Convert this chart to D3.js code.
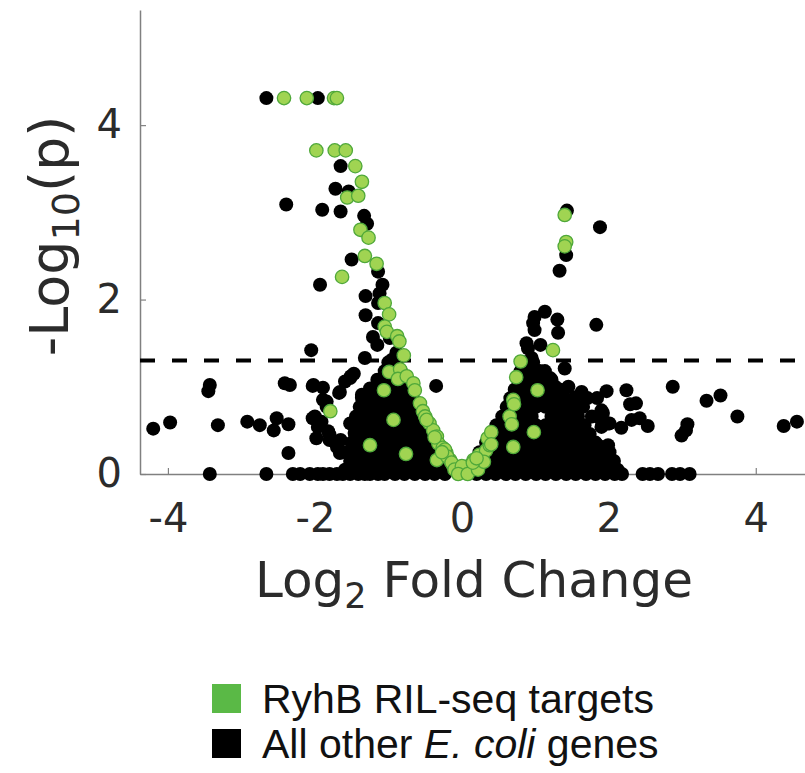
<!DOCTYPE html>
<html>
<head>
<meta charset="utf-8">
<script src="https://cdnjs.cloudflare.com/ajax/libs/d3/7.8.5/d3.min.js"></script>
<style>
  body { margin: 0; background: #ffffff; }
</style>
</head>
<body>
<div id="chart"></div>
<script>
// axis ticks
const xTicks = [-4, -2, 0, 2, 4];
const yTicks = [0, 2, 4];
const pThreshold = 1.301; // -log10(0.05)

// scattered "all other genes" points [log2FC, -log10 p]
const blackSparse = [
  [-2.66,4.31],[-1.96,4.31],[-1.65,3.53],[-1.72,3.27],[-1.54,3.24],[-2.39,3.09],[-1.90,3.03],[-1.65,3.01],
  [-1.33,2.96],[-1.29,2.87],[-1.50,2.46],[-1.14,2.32],[-1.93,2.17],[-1.08,2.17],[-1.12,2.07],[-1.31,2.04],
  [-1.14,1.96],[-1.31,1.82],[-1.14,1.73],[-1.21,1.57],[-0.98,1.56],[-1.15,1.48],[-2.05,1.42],[-0.89,1.39],
  [-1.32,1.33],[-0.95,1.31],
  [-3.43,1.02],[-3.45,0.95],[-2.41,1.04],[-2.03,1.01],[-1.89,0.99],[-1.67,0.93],[-1.51,1.12],[-1.47,1.15],
  [-1.52,1.10],[-1.59,1.06],[-1.15,1.08],[-1.25,0.98],[-1.36,0.91],[-1.17,0.92],[-1.66,0.94],[-2.02,1.02],
  [-2.34,1.02],[-0.35,1.01],
  [-4.20,0.52],[-3.97,0.59],[-3.32,0.56],[-2.92,0.60],[-2.75,0.56],[-2.56,0.50],[-2.52,0.64],[-2.36,0.57],
  [-2.03,0.64],[-1.98,0.41],[-2.36,0.24],[-1.80,0.45],[-1.73,0.37],[-1.65,0.39],[-1.84,0.83],[-1.91,0.60],
  [-1.89,0.85],[-1.84,0.77],[-2.00,0.66],[-1.96,0.54],[-1.82,0.49],[-1.80,0.39],[-1.70,0.31],[-1.66,0.24],
  [-1.52,0.58],[-1.46,0.47],[-1.48,0.31],[-1.55,0.24],
  [1.43,3.02],[1.88,2.83],[1.42,2.51],[1.33,2.33],[1.13,1.86],[0.99,1.80],[0.97,1.73],[0.99,1.65],
  [1.30,1.77],[1.31,1.62],[1.83,1.71],[0.88,1.50],[0.90,1.44],[1.07,1.48],[0.95,1.33],[1.40,1.21],
  [1.20,1.10],[1.27,1.00],[1.45,1.00],
  [1.63,0.94],[1.54,0.88],[1.71,0.87],[1.84,0.87],[1.54,0.75],[1.65,0.77],[1.90,0.73],[2.29,0.80],
  [1.77,0.66],[1.90,0.62],[2.01,0.58],[2.17,0.53],[2.31,0.62],[1.72,0.43],[1.70,0.39],[1.85,0.33],
  [1.81,0.20],[1.95,0.28],[1.97,0.95],[2.24,0.96],[2.37,0.81],[2.42,0.64],[2.53,0.55],[1.92,0.70],
  [1.99,0.58],[1.90,0.54],[2.87,1.00],[3.33,0.84],[3.52,0.90],[3.75,0.66],[3.07,0.57],[3.05,0.50],
  [2.99,0.44],[4.38,0.55],[4.56,0.60],[1.99,0.33],[1.90,0.29],[1.88,0.20]
];

// dense body of non-significant genes, read row by row: [-log10 p, [log2FC...]]
const blackDenseRows = [
  [0.05, [-1.59,-1.46,-1.32,-1.18,-1.05,-0.91,-0.78,-0.64,-0.50,-0.37,-0.23,-0.10,
          0.08,0.22,0.35,0.49,0.63,0.76,0.90,1.03,1.17,1.31,1.44,1.58,1.71,1.85,1.99,2.12]],
  [0.15, [-1.52,-1.39,-1.25,-1.12,-0.98,-0.84,-0.71,-0.57,-0.44,-0.30,-0.18,
          0.16,0.30,0.44,0.57,0.71,0.84,0.98,1.12,1.25,1.39,1.52,1.66,1.80,1.93,2.07]],
  [0.25, [-1.58,-1.44,-1.31,-1.17,-1.03,-0.90,-0.76,-0.63,-0.49,-0.35,-0.25,
          0.24,0.38,0.52,0.65,0.79,0.93,1.06,1.20,1.33,1.47,1.61,1.74,1.88,2.01]],
  [0.36, [-1.50,-1.36,-1.22,-1.09,-0.95,-0.82,-0.68,-0.54,-0.41,-0.33,
          0.33,0.46,0.60,0.73,0.87,1.01,1.14,1.28,1.42,1.55,1.69,1.82]],
  [0.46, [-1.44,-1.30,-1.17,-1.03,-0.89,-0.76,-0.62,-0.49,-0.40,
          0.40,0.52,0.65,0.79,0.93,1.06,1.20,1.33,1.47,1.61,1.74]],
  [0.56, [-1.41,-1.28,-1.14,-1.00,-0.87,-0.73,-0.60,-0.47,
          0.47,0.60,0.73,0.87,1.01,1.14,1.28,1.42,1.55,1.67]],
  [0.66, [-1.44,-1.31,-1.17,-1.03,-0.90,-0.76,-0.63,-0.53,
          0.55,0.68,0.82,0.95,1.22,1.36,1.50,1.58]],
  [0.77, [-1.39,-1.25,-1.11,-0.98,-0.84,-0.71,-0.58,
          0.61,0.73,0.87,1.01,1.14,1.28,1.42,1.47]],
  [0.87, [-1.36,-1.22,-1.08,-0.95,-0.81,-0.67,
          0.66,0.79,0.93,1.06,1.20,1.33,1.40]],
  [0.97, [-1.14,-1.02,-0.89,-0.75,-0.69,
          0.72,0.84,0.98,1.12,1.25,1.33]],
  [1.08, [-1.08,-0.95,-0.82,-0.75,
          0.77,0.90,1.03,1.17,1.22]],
  [1.18, [-1.05,-0.93,-0.83,
          0.80,0.93,1.06,1.13]],
  [1.28, [-1.00,-0.89,
          0.84,0.97]]
];

// genes with p = 1 sitting on the x axis
const blackBaseline = [
  -3.43,-2.66,-2.30,-2.20,-2.07,-1.96,-1.89,-1.80,-1.70,-1.62,-1.52,-1.41,-1.32,-1.25,-1.14,
  -1.05,-0.91,-0.78,-0.64,-0.50,-0.37,-0.23,
  0.20,0.33,0.46,0.60,0.73,0.87,1.01,1.14,1.28,1.42,1.55,1.69,1.82,1.95,2.08,2.18,
  2.46,2.56,2.67,2.86,2.97,3.10
];

// RyhB RIL-seq targets [log2FC, -log10 p]
const greenTargets = [
  [-2.42,4.31],[-2.11,4.31],[-1.74,4.31],[-1.70,4.31],[-1.98,3.71],[-1.73,3.71],[-1.58,3.71],[-1.45,3.53],
  [-1.36,3.35],[-1.56,3.17],[-1.41,3.19],[-1.38,2.80],[-1.27,2.71],[-1.32,2.50],[-1.16,2.41],[-1.63,2.26],
  [-1.05,1.96],[-0.99,1.83],[-1.05,1.69],[-1.02,1.63],[-0.88,1.58],[-0.85,1.52],[-0.79,1.36],[-0.99,1.17],
  [-0.84,1.20],[-0.87,1.09],[-0.75,1.12],[-0.66,1.04],[-0.64,0.96],[-1.06,0.96],[-1.79,0.72],[-0.93,0.62],
  [-1.25,0.33],[-0.76,0.23],
  [-0.57,0.81],[-0.53,0.72],[-0.50,0.66],[-0.44,0.58],[-0.39,0.50],[-0.34,0.43],[-0.32,0.35],[-0.26,0.30],
  [-0.21,0.24],[-0.34,0.16],[-0.16,0.16],[-0.12,0.10],[-0.05,0.07],[-0.48,0.62],[-0.37,0.42],[-0.23,0.28],
  [-0.20,0.20],[-0.14,0.13],
  [-0.10,0.05],[0.00,0.02],[0.04,0.05],[0.11,0.10],[0.16,0.16],[0.24,0.22],[0.00,0.09],[-0.27,0.25],
  [0.33,0.27],[0.38,0.33],[-0.05,0.00],[0.08,0.00],[0.22,0.05],[0.30,0.14],[0.15,0.13],[0.20,0.18],
  [0.35,0.41],[0.40,0.48],[0.40,0.34],[0.65,0.66],[0.68,0.57],[0.70,0.85],[0.71,0.80],[0.74,1.11],
  [0.80,1.29],[1.03,0.96],[0.98,0.48],[0.70,0.31],[1.24,1.42],[1.40,2.97],[1.42,2.66],[1.40,2.61]
];

const legendItems = [
  {label: "RyhB RIL-seq targets", color: "#5ab946"},
  {label: "All other ", italic: "E. coli", rest: " genes", color: "#000000"}
];

// Build the svg
const W = 805, H = 773;
const margin = {top: 10, right: 0, bottom: 299, left: 140};

const svg = d3.select("#chart")
  .append("svg")
  .attr("width", W)
  .attr("height", H);

const x = d3.scaleLinear()
  .domain([-4.38, 4.67])
  .range([margin.left, W - margin.right]);

const y = d3.scaleLinear()
  .domain([0, 5.32])
  .range([H - margin.bottom, margin.top]);

// Axes (ticks point inward)
svg.append("g")
  .attr("transform", "translate(0," + y(0) + ")")
  .call(d3.axisBottom(x).tickValues(xTicks).tickSizeInner(-6).tickSizeOuter(0).tickPadding(30)
    .tickFormat(d => d < 0 ? "-" + Math.abs(d) : d));

svg.append("g")
  .attr("transform", "translate(" + x.range()[0] + ",0)")
  .call(d3.axisLeft(y).tickValues(yTicks).tickSizeInner(-6).tickSizeOuter(0).tickPadding(18)
    .tickFormat(d3.format("d")));

svg.selectAll(".domain").attr("stroke", "#808080").attr("stroke-width", 1.5);
svg.selectAll(".tick line").attr("stroke", "#808080").attr("stroke-width", 1.2);
svg.selectAll(".tick text")
  .style("font-family", "'DejaVu Sans', sans-serif")
  .style("font-size", "40px")
  .attr("fill", "#2b2b2b");

// significance threshold
svg.append("line")
  .attr("x1", x.range()[0])
  .attr("x2", x.range()[1])
  .attr("y1", y(pThreshold))
  .attr("y2", y(pThreshold))
  .attr("stroke", "#000")
  .attr("stroke-width", 4)
  .attr("stroke-dasharray", "15,17");

// points
const R = 7;
const blackAll = blackSparse.slice();
blackDenseRows.forEach(([py, xs]) => xs.forEach(px => blackAll.push([px, py])));
blackBaseline.forEach(px => blackAll.push([px, 0]));

svg.append("g")
  .selectAll("circle")
  .data(blackAll)
  .enter()
  .append("circle")
  .attr("cx", d => x(d[0]))
  .attr("cy", d => y(d[1]))
  .attr("r", R)
  .attr("fill", "#000");

svg.append("g")
  .selectAll("circle")
  .data(greenTargets)
  .enter()
  .append("circle")
  .attr("cx", d => x(d[0]))
  .attr("cy", d => y(d[1]))
  .attr("r", R - 0.3)
  .attr("fill", "#a0d452")
  .attr("stroke", "#4fa83a")
  .attr("stroke-width", 1.3);

// axis titles
const yLab = svg.append("text")
  .attr("transform", "translate(68," + 236 + ") rotate(-90)")
  .attr("text-anchor", "middle")
  .style("font-family", "'DejaVu Sans', sans-serif")
  .style("font-size", "54px")
  .attr("fill", "#2b2b2b");
yLab.append("tspan").text("-Log");
yLab.append("tspan").attr("dy", "0.3em").style("font-size", "38px").text("10");
yLab.append("tspan").attr("dy", "-0.21em").text("(p)");

const xLab = svg.append("text")
  .attr("x", 474)
  .attr("y", 597)
  .attr("text-anchor", "middle")
  .style("font-family", "'DejaVu Sans', sans-serif")
  .style("font-size", "50px")
  .attr("fill", "#2b2b2b");
xLab.append("tspan").text("Log");
xLab.append("tspan").attr("dy", "0.3em").style("font-size", "35px").text("2");
xLab.append("tspan").attr("dy", "-0.21em").text(" Fold Change");

// legend
const legend = svg.append("g").attr("transform", "translate(212,684)");
legendItems.forEach((item, i) => {
  const g = legend.append("g").attr("transform", "translate(0," + (i * 45) + ")");
  g.append("rect").attr("width", 29).attr("height", 29).attr("fill", item.color);
  const t = g.append("text")
    .attr("x", 50)
    .attr("y", 29)
    .style("font-family", "'Liberation Sans', Arial, sans-serif")
    .style("font-size", "41px")
    .attr("fill", "#111");
  t.append("tspan").text(item.label);
  if (item.italic) {
    t.append("tspan").style("font-style", "italic").text(item.italic);
    t.append("tspan").text(item.rest);
  }
});
</script>
</body>
</html>
